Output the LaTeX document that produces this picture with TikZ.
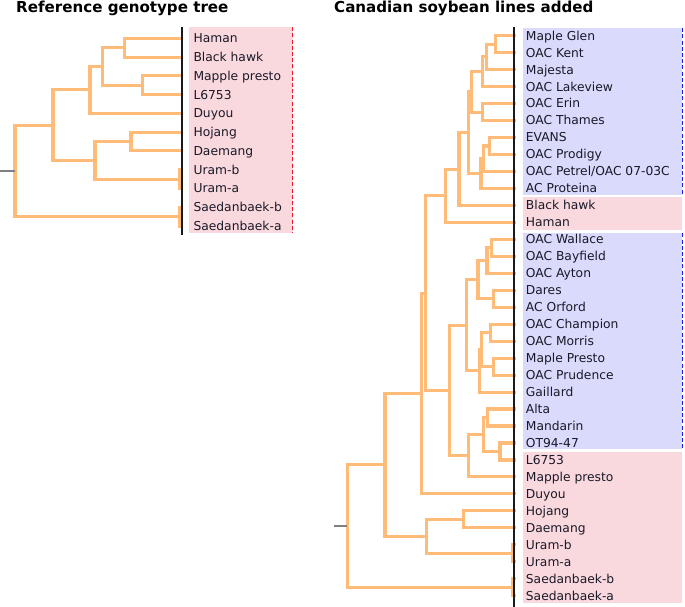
\documentclass[tikz,border=0pt]{standalone}
\usepackage{fontspec}
\setmainfont{DejaVu Sans}
\usetikzlibrary{calc}
\definecolor{branchc}{RGB}{255,187,120}
\definecolor{pinkbox}{RGB}{250,217,222}
\definecolor{bluebox}{RGB}{218,218,252}
\definecolor{reddash}{RGB}{232,28,40}
\definecolor{bluedash}{RGB}{30,30,220}
\definecolor{txt}{RGB}{25,25,40}
\definecolor{stubc}{RGB}{128,128,128}
\newcommand\clade[4]{%
  \path let \p1=($(#3)!.5!(#4)$) in coordinate (#1) at (#2pt,\y1);
  \draw[branch] (#3) -| (#1) |- (#4);}
\tikzset{
  branch/.style={line width=3.1pt, draw=branchc, line cap=rect, line join=miter},
  lbl/.style={anchor=base west, inner sep=0pt, text=txt, yshift=-4.4pt,
              font=\fontsize{12.3pt}{14pt}\selectfont},
  ttl/.style={anchor=base west, inner sep=0pt, text=black,
              font=\fontsize{15.1pt}{18pt}\selectfont\bfseries},
  axisline/.style={line width=1.7pt, draw=black!90},
  stubline/.style={line width=2.3pt, draw=stubc},
  rdash/.style={line width=1.5pt, draw=reddash, dash pattern=on 4pt off 2.2pt},
  bdash/.style={line width=1.5pt, draw=bluedash, dash pattern=on 4pt off 2.2pt}
}
\begin{document}
\begin{tikzpicture}[x=1pt,y=-1pt]
\useasboundingbox (0,0) rectangle (685,607);
% titles
\node[ttl] (t1) at (16,12.7) {Reference genotype tree};
\node[ttl] (t2) at (334,12.7) {Canadian soybean lines added};
% background boxes
\fill[pinkbox] (189.3,27.3) rectangle (293.3,233.3);
\fill[bluebox] (523.3,28.3) rectangle (681.5,194.5);
\fill[pinkbox] (523.3,197.3) rectangle (681.5,230.3);
\fill[bluebox] (523.3,233.3) rectangle (681.5,449.2);
\fill[pinkbox] (523.3,451.8) rectangle (681.5,602.8);
\draw[rdash] (292.3,27.3) -- (292.3,233.3);
\draw[bdash] (682.6,28.3) -- (682.6,194.5);
\draw[bdash] (682.6,233.3) -- (682.6,449.2);
% left leaves
\foreach \lab [count=\i from 0] in {Haman,Black hawk,Mapple presto,L6753,Duyou,Hojang,Daemang,Uram-b,Uram-a,Saedanbaek-b,Saedanbaek-a}{
  \pgfmathsetmacro\yy{38.3+18.77*\i}
  \coordinate (lt\i) at (181.7,\yy);
  \node[lbl] (ll\i) at (193.3,\yy) {\lab};
}
% right leaves
\foreach \lab [count=\i from 0] in {Maple Glen,OAC Kent,Majesta,OAC Lakeview,OAC Erin,OAC Thames,EVANS,OAC Prodigy,{OAC Petrel/OAC 07-03C},AC Proteina,Black hawk,Haman,OAC Wallace,OAC Bayfield,OAC Ayton,Dares,AC Orford,OAC Champion,OAC Morris,Maple Presto,OAC Prudence,Gaillard,Alta,Mandarin,OT94-47,L6753,Mapple presto,Duyou,Hojang,Daemang,Uram-b,Uram-a,Saedanbaek-b,Saedanbaek-a}{
  \pgfmathsetmacro\yy{35.7+16.97*\i}
  \coordinate (rt\i) at (514.3,\yy);
  \node[lbl] (rl\i) at (525.7,\yy) {\lab};
}
% left tree
\clade{ln1}{124.3}{lt0}{lt1}
\clade{ln2}{142.3}{lt2}{lt3}
\clade{ln3}{102.3}{ln1}{ln2}
\clade{ln4}{90}{ln3}{lt4}
\clade{ln5}{131}{lt5}{lt6}
\clade{ln6}{180}{lt7}{lt8}
\clade{ln7}{95}{ln5}{ln6}
\clade{ln8}{53}{ln4}{ln7}
\clade{ln9}{180}{lt9}{lt10}
\clade{lroot}{15}{ln8}{ln9}
\coordinate (lstubx) at (0,0);
\draw[stubline] (lroot -| lstubx) -- (lroot);
% right tree
\clade{a1}{495.3}{rt0}{rt1}
\clade{a2}{486.7}{a1}{rt2}
\clade{a3}{482.5}{a2}{rt3}
\clade{a4}{482.5}{rt4}{rt5}
\clade{a5}{471.3}{a3}{a4}
\clade{a6}{489.3}{rt6}{rt7}
\clade{a7}{483.8}{a6}{rt8}
\clade{a8}{481}{a7}{rt9}
\clade{a9}{468.3}{a5}{a8}
\clade{a10}{459}{a9}{rt10}
\clade{a11}{445.7}{a10}{rt11}
\clade{b1}{491.7}{rt12}{rt13}
\clade{b2}{487}{b1}{rt14}
\clade{b3}{493.3}{rt15}{rt16}
\clade{b4}{478}{b2}{b3}
\clade{b5}{490.3}{rt17}{rt18}
\clade{b6}{493.3}{rt19}{rt20}
\clade{b7}{481.2}{b5}{b6}
\clade{b8}{479.2}{b7}{rt21}
\clade{b9}{466.3}{b4}{b8}
\clade{c1}{487.8}{rt22}{rt23}
\clade{c2}{500}{rt24}{rt25}
\clade{c3}{483.3}{c1}{c2}
\clade{c4}{468.3}{c3}{rt26}
\clade{b10}{449.2}{b9}{c4}
\clade{d1}{425.7}{a11}{b10}
\clade{d2}{421.7}{d1}{rt27}
\clade{e1}{463.3}{rt28}{rt29}
\clade{e2}{512.3}{rt30}{rt31}
\clade{e3}{426.7}{e1}{e2}
\clade{d3}{385}{d2}{e3}
\clade{f1}{512.3}{rt32}{rt33}
\clade{rroot}{347.3}{d3}{f1}
\coordinate (rstubx) at (334,0);
\draw[stubline] (rroot -| rstubx) -- (rroot);
% leaf axis lines
\draw[axisline] (181.7,27.3) -- (181.7,235);
\draw[axisline] (514.3,27.3) -- (514.3,606.5);
\end{tikzpicture}
\end{document}
